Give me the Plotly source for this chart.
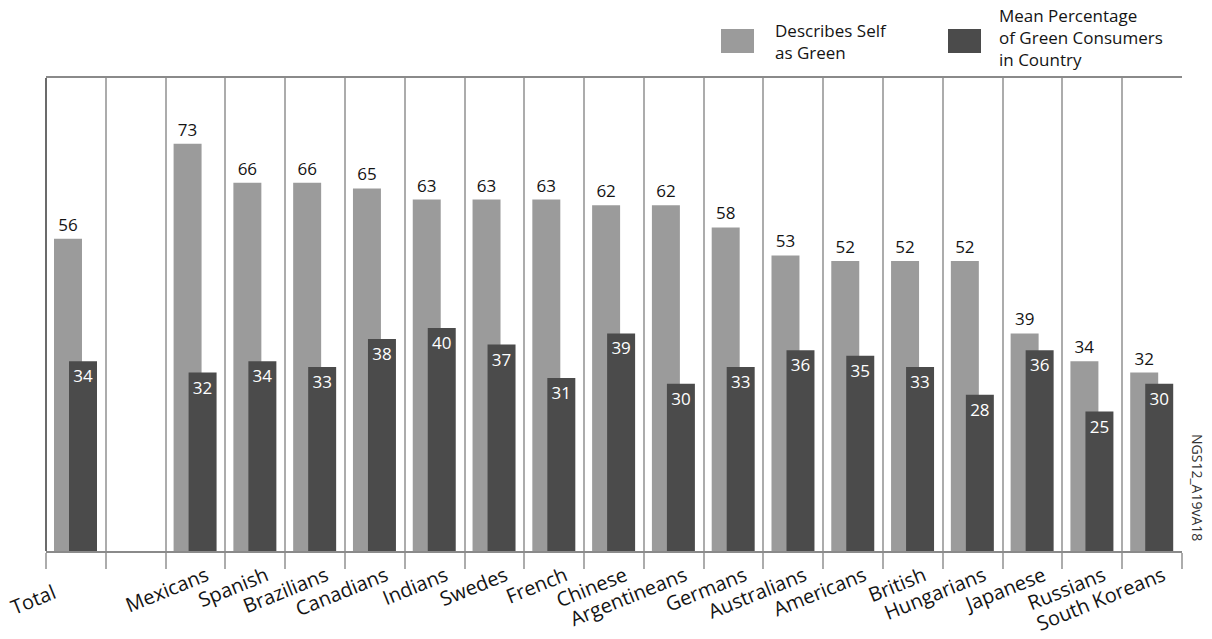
import plotly.graph_objects as go

# ---- data ----
categories = ["Total", " ", "Mexicans", "Spanish", "Brazilians", "Canadians", "Indians",
              "Swedes", "French", "Chinese", "Argentineans", "Germans", "Australians",
              "Americans", "British", "Hungarians", "Japanese", "Russians", "South Koreans"]
describes_self_green = [56, None, 73, 66, 66, 65, 63, 63, 63, 62, 62, 58, 53, 52, 52, 52, 39, 34, 32]
mean_green_consumers = [34, None, 32, 34, 33, 38, 40, 37, 31, 39, 30, 33, 36, 35, 33, 28, 36, 25, 30]
series_names = ["Describes Self<br>as Green", "Mean Percentage<br>of Green Consumers<br>in Country"]
credit = "NGS12_A19vA18"

LIGHT = "#9b9b9b"
DARK = "#4b4b4b"
GRID = "#acacac"
FONT = "Open Sans"
INK = "#141414"

def txt(vals):
    return ["" if v is None else str(v) for v in vals]

fig = go.Figure()
fig.add_trace(go.Bar(
    x=categories, y=describes_self_green, name=series_names[0],
    marker=dict(color=LIGHT, line=dict(width=0)),
    width=0.468, offset=-0.366,
    text=txt(describes_self_green), textposition="outside",
    textfont=dict(family=FONT, size=17, color=INK),
    cliponaxis=False, showlegend=False,
))
fig.add_trace(go.Bar(
    x=categories, y=mean_green_consumers, name=series_names[1],
    marker=dict(color=DARK, line=dict(width=0)),
    width=0.468, offset=-0.115,
    text=txt(mean_green_consumers), textposition="inside", insidetextanchor="end",
    textfont=dict(family=FONT, size=17, color="white"),
    constraintext="none", showlegend=False,
))

# plot area in pixels
L, R, T, B = 46, 1182, 78, 551
W, H = 1212, 639
def px(x):
    return (x - L) / (R - L)
def py(y):
    return (B - y) / (B - T)

fig.update_layout(
    width=W, height=H,
    margin=dict(l=L, r=W - R, t=T, b=H - B, pad=0, autoexpand=False),
    barmode="overlay",
    plot_bgcolor="white", paper_bgcolor="white",
    font=dict(family=FONT, color=INK),
    uniformtext=dict(mode=False),
)
# first category ("Total") label is set apart, as in the original
tick_text = ["" if i == 0 else c for i, c in enumerate(categories)]
fig.update_xaxes(
    type="category", range=[-0.5, len(categories) - 0.5],
    tickmode="array", tickvals=categories, ticktext=tick_text,
    tickson="boundaries", showgrid=True, gridcolor=GRID, gridwidth=1.5,
    ticks="outside", ticklen=16, tickwidth=1.5, tickcolor=GRID,
    tickangle=-22, tickfont=dict(family=FONT, size=20, color=INK),
    ticklabelshift=11, ticklabelstandoff=4,
    showline=True, linecolor="#8a8a8a", linewidth=1.5, mirror=True,
    zeroline=False, fixedrange=True, automargin=False,
)
fig.update_yaxes(
    range=[0, 84.8], showticklabels=False, showgrid=False, zeroline=False,
    showline=False, ticks="", automargin=False,
)
fig.add_annotation(xref="x", yref="paper", x=categories[0], y=py(576),
                   text=categories[0], showarrow=False, textangle=-22,
                   xanchor="right", yanchor="top", xshift=-14,
                   font=dict(family=FONT, size=20, color=INK))

# left axis line (darker)
fig.add_shape(type="line", xref="paper", yref="paper", x0=0, x1=0, y0=0, y1=1,
              line=dict(color="#3a3a3a", width=1.5))

# legend built manually
sw = [(721, 29), (948, 29)]
colors = [LIGHT, DARK]
text_x = [773, 997]
text_y = [41, 38]
for (sx, sy), c, tx, ty, name in zip(sw, colors, text_x, text_y, series_names):
    fig.add_shape(type="rect", xref="paper", yref="paper",
                  x0=px(sx), x1=px(sx + 33), y0=py(sy + 24), y1=py(sy),
                  fillcolor=c, line=dict(width=0))
    fig.add_annotation(xref="paper", yref="paper", x=px(tx), y=py(ty),
                       text=name, showarrow=False, xanchor="left", yanchor="middle",
                       align="left", font=dict(family=FONT, size=17, color=INK))

fig.add_annotation(xref="paper", yref="paper", x=px(1198), y=py(487),
                   text=credit, showarrow=False, textangle=90,
                   xanchor="center", yanchor="middle",
                   font=dict(family=FONT, size=14, color="#333333"))

fig.write_html("out.html")
